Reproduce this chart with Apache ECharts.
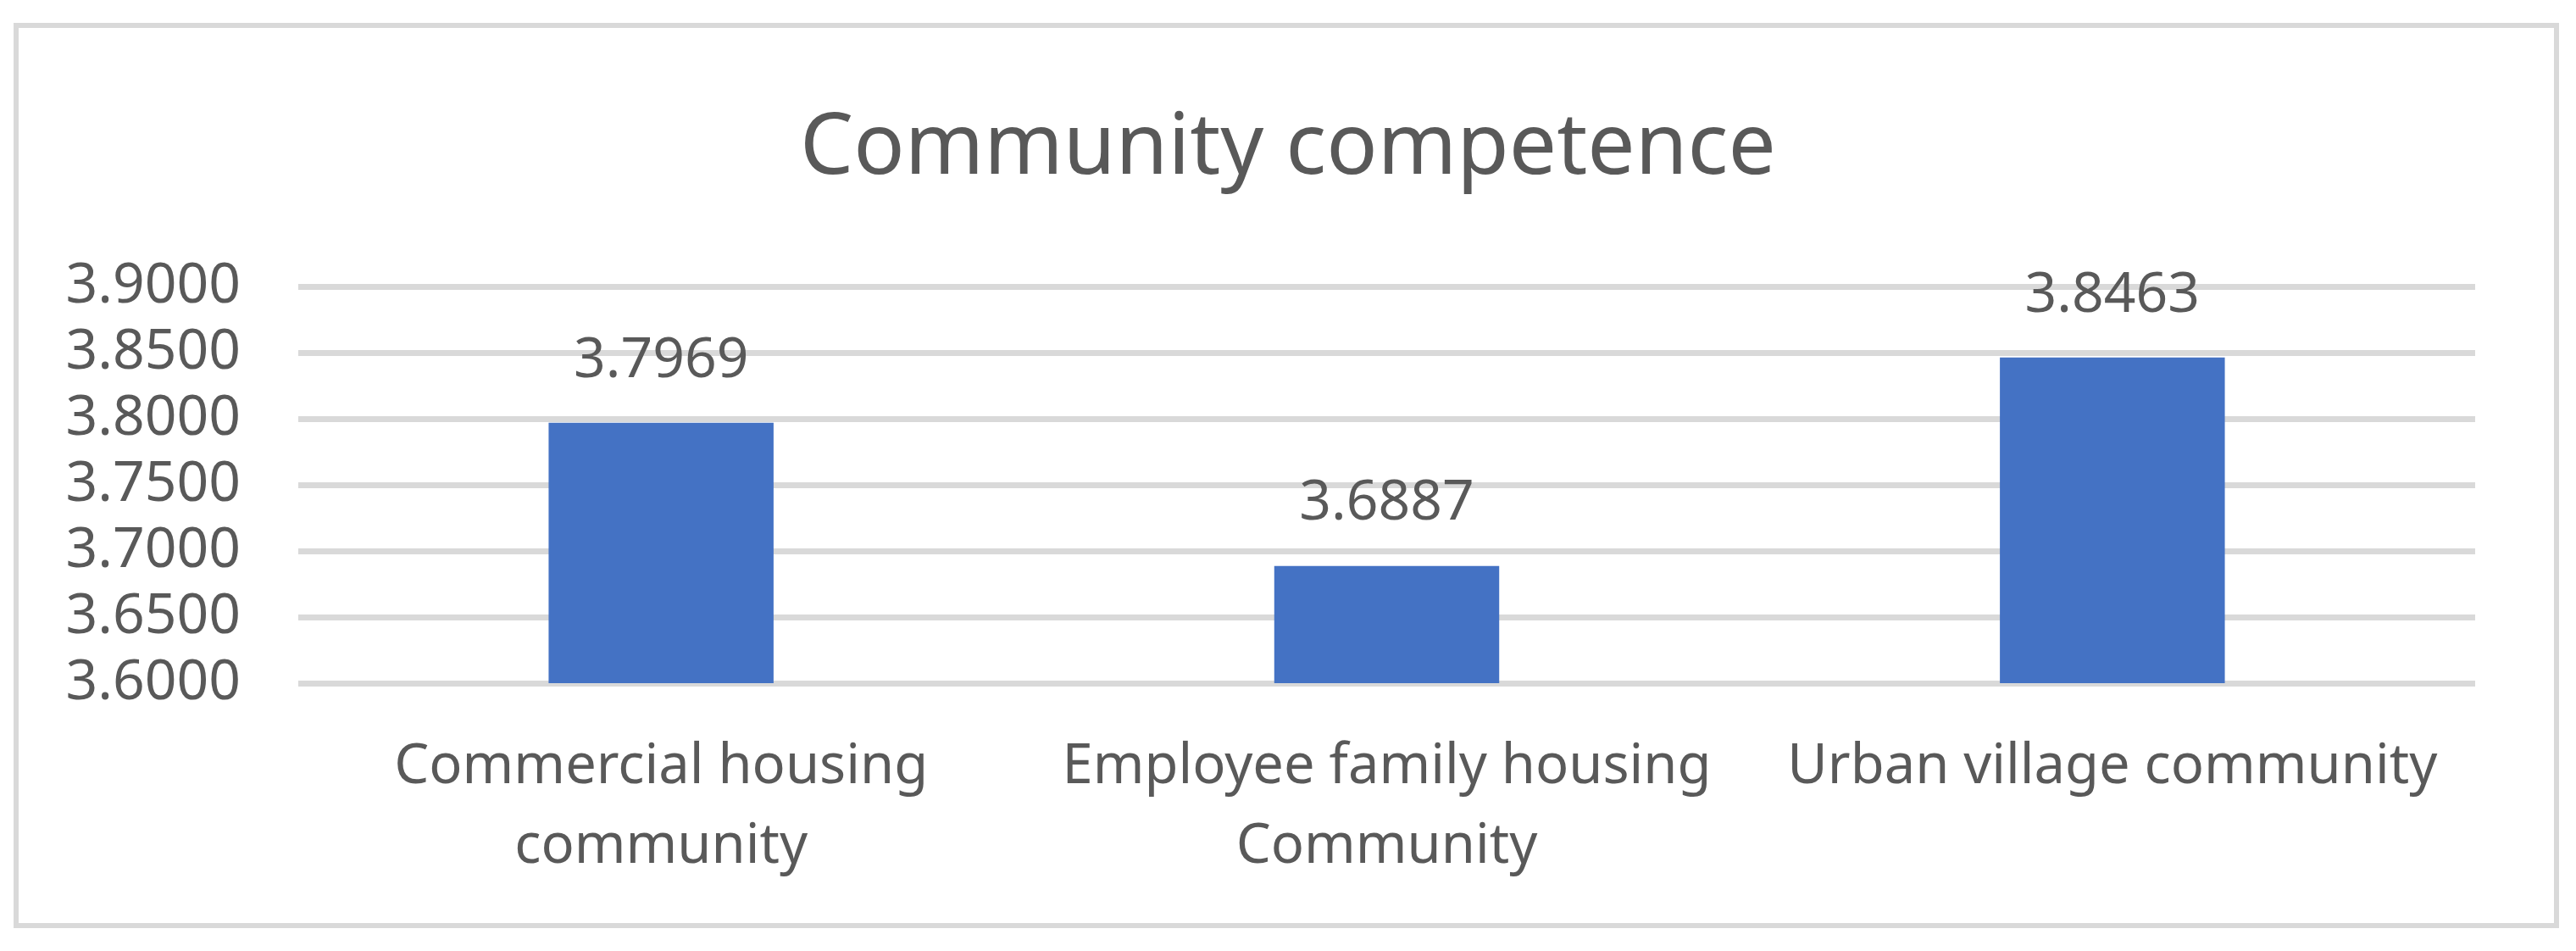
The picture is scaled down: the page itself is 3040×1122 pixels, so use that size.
<!DOCTYPE html>
<html>
<head>
<meta charset="utf-8">
<title>Community competence</title>
<script src="https://cdn.jsdelivr.net/npm/echarts@6/dist/echarts.min.js"></script>
<style>
  html, body { margin: 0; padding: 0; background: #fff; }
  #chart { width: 3040px; height: 1122px; }
</style>
</head>
<body>
<div id="chart"></div>
<script>
// data
const categories = [
  'Commercial housing\ncommunity',
  'Employee family housing\nCommunity',
  'Urban village community'
]
const values = [3.7969, 3.6887, 3.8463]
const yMin = 3.6
const yMax = 3.9
const yStep = 0.05

const textColor = '#595959'
const gridColor = '#d9d9d9'
const font = 'Noto Sans'

const chart = echarts.init(document.getElementById('chart'))

chart.setOption({
  backgroundColor: '#fff',
  animation: false,
  title: {
    text: 'Community competence',
    left: 'center',
    top: 122,
    textStyle: { color: textColor, fontSize: 100, fontWeight: 'normal', fontFamily: font }
  },
  // outer frame of the chart
  graphic: [{
    type: 'rect',
    shape: { x: 19, y: 30, width: 2998, height: 1062 },
    style: { fill: 'none', stroke: gridColor, lineWidth: 6 },
    silent: true
  }],
  grid: { left: 352, right: 119, top: 338, bottom: 316 },
  xAxis: {
    type: 'category',
    data: categories,
    axisLine: { show: false },
    axisTick: { show: false },
    axisLabel: {
      interval: 0,
      hideOverlap: false,
      color: textColor,
      fontSize: 65,
      fontFamily: font,
      lineHeight: 94,
      margin: 52
    }
  },
  yAxis: {
    type: 'value',
    min: yMin,
    max: yMax,
    interval: yStep,
    axisLine: { show: false },
    axisTick: { show: false },
    axisLabel: {
      color: textColor,
      fontSize: 66,
      fontFamily: font,
      margin: 68,
      formatter: v => v.toFixed(4)
    },
    splitLine: { lineStyle: { color: gridColor, width: 7 } }
  },
  series: [{
    type: 'bar',
    data: values,
    barWidth: '31%',
    itemStyle: { color: '#4472c4' },
    label: {
      show: true,
      position: 'top',
      distance: 40,
      color: textColor,
      fontSize: 66,
      fontFamily: font,
      formatter: p => p.value.toFixed(4)
    }
  }]
})
</script>
</body>
</html>
